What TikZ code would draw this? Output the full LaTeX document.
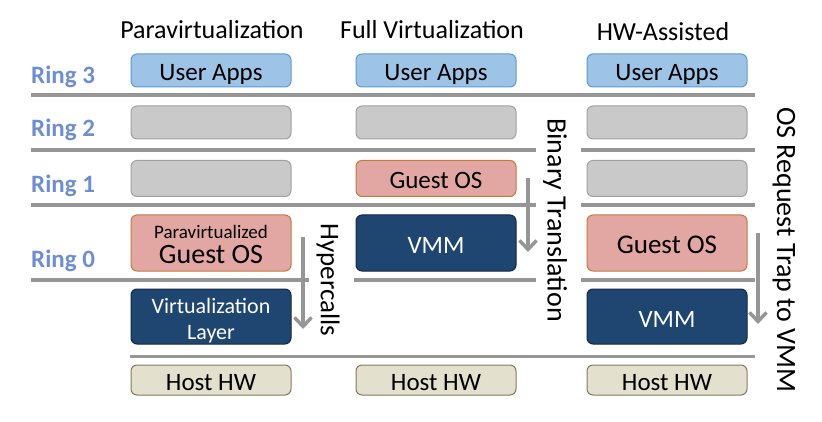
\documentclass[tikz,border=0pt]{standalone}
\usepackage{fontspec}
\setmainfont{Carlito}
\usetikzlibrary{arrows.meta,positioning}
\definecolor{ringblue}{RGB}{110,142,212}
\definecolor{sepgray}{RGB}{150,150,150}
\definecolor{appfill}{RGB}{157,195,230}
\definecolor{appdraw}{RGB}{91,155,213}
\definecolor{emptyfill}{RGB}{201,201,201}
\definecolor{emptydraw}{RGB}{160,160,160}
\definecolor{osfill}{RGB}{226,166,163}
\definecolor{osdraw}{RGB}{196,122,58}
\definecolor{vmmfill}{RGB}{31,70,112}
\definecolor{vmmdraw}{RGB}{20,40,64}
\definecolor{hwfill}{RGB}{227,224,205}
\definecolor{hwdraw}{RGB}{128,122,95}

\begin{document}
\begin{tikzpicture}[x=1pt,y=-1pt,
		box/.style={draw,rounded corners=6pt,line width=1pt,minimum width=160pt,inner sep=0pt,align=center,
			font=\fontsize{25}{26}\selectfont},
		oneline/.style={text height=23.5pt,text depth=2.5pt},
		apps/.style={box,oneline,fill=appfill,draw=appdraw,minimum height=33pt},
		empty/.style={box,fill=emptyfill,draw=emptydraw},
		guest/.style={box,fill=osfill,draw=osdraw},
		vmm/.style={box,fill=vmmfill,draw=vmmdraw,text=white},
		hw/.style={box,oneline,fill=hwfill,draw=hwdraw,minimum height=30pt},
		ring/.style={anchor=base west,inner xsep=0pt,text=ringblue,font=\fontsize{25}{26}\selectfont\bfseries},
		head/.style={anchor=base,font=\fontsize{26}{27}\selectfont},
		side/.style={rotate=-90,font=\fontsize{28}{29}\selectfont},
		sep/.style={draw=sepgray,line width=3.7pt},
		call/.style={draw=sepgray,line width=3.5pt,-{Straight Barb[length=9pt,width=17pt,line width=3.5pt]}}]
	\useasboundingbox (0,0) rectangle (822,422);
	% separators between the rings
	\path[sep] (31,95) -- (755,95);
	\path[sep] (31,150) -- (536,150) (581,150) -- (755,150);
	\path[sep] (31,205) -- (536,205) (581,205) -- (755,205);
	\path[sep] (31,280) -- (309,280) (354,280) -- (536,280) (581,280) -- (755,280);
	\path[sep,line width=3pt] (130,356) -- (755,356);
	% ring labels
	\node[ring] (r3) at (31,84) {Ring 3};
	\node[ring] (r2) at (31,137) {Ring 2};
	\node[ring] (r1) at (31,193) {Ring 1};
	\node[ring] (r0) at (31,268) {Ring 0};
	% column titles
	\node[head] (para) at (212,39) {Paravirtualization};
	\node[head] (full) at (432,39) {Full Virtualization};
	\node[head] (hwa)  at (663,41) {HW-Assisted};
	% paravirtualization
	\node[apps]  (pApps) at (211,70.5) {User Apps};
	\node[empty,minimum height=33pt] (pR2) at (211,122.5) {};
	\node[empty,minimum height=36pt] (pR1) at (211,178.5) {};
	\node[guest,minimum height=56pt] (pOS) at (211,243) {{\fontsize{19}{22}\selectfont\rule{0pt}{17pt}Paravirtualized}\\[-1pt]{\fontsize{28}{30}\selectfont Guest OS}};
	\node[vmm,minimum height=55pt,font=\fontsize{22}{26}\selectfont] (pVL) at (211,316.5) {\rule{0pt}{24pt}Virtualization\\Layer};
	\node[hw]    (pHW) at (211,380) {Host HW};
	% full virtualization
	\node[apps]  (fApps) at (436,70.5) {User Apps};
	\node[empty,minimum height=33pt] (fR2) at (436,122.5) {};
	\node[guest,oneline,minimum height=36pt] (fOS) at (436,178.5) {Guest OS};
	\node[vmm,oneline,minimum height=56pt] (fVMM) at (436,243) {VMM};
	\node[hw]    (fHW) at (436,380) {Host HW};
	% hw-assisted
	\node[apps]  (hApps) at (667,70.5) {User Apps};
	\node[empty,minimum height=33pt] (hR2) at (667,122.5) {};
	\node[empty,minimum height=36pt] (hR1) at (667,178.5) {};
	\node[guest,oneline,minimum height=56pt,font=\fontsize{27}{28}\selectfont] (hOS) at (667,243) {Guest OS};
	\node[vmm,oneline,minimum height=55pt] (hVMM) at (667,316.5) {VMM};
	\node[hw]    (hHW) at (667,380) {Host HW};
	% calls down to the monitor
	\coordinate (hcTop) at (303,237);
	\coordinate (hcEnd) at (303,329);
	\coordinate (btTop) at (528,178);
	\coordinate (btEnd) at (528,252);
	\coordinate (trTop) at (758,233);
	\coordinate (trEnd) at (758,324);
	\draw[call] (hcTop) -- (hcEnd);
	\draw[call] (btTop) -- (btEnd);
	\draw[call] (trTop) -- (trEnd);
	\node[side,font=\fontsize{27}{28}\selectfont] (hc) at (328,280) {Hypercalls};
	\node[side] (bt) at (555,220) {Binary Translation};
	\node[side] (tr) at (784,250) {OS Request Trap to VMM};
\end{tikzpicture}
\end{document}
